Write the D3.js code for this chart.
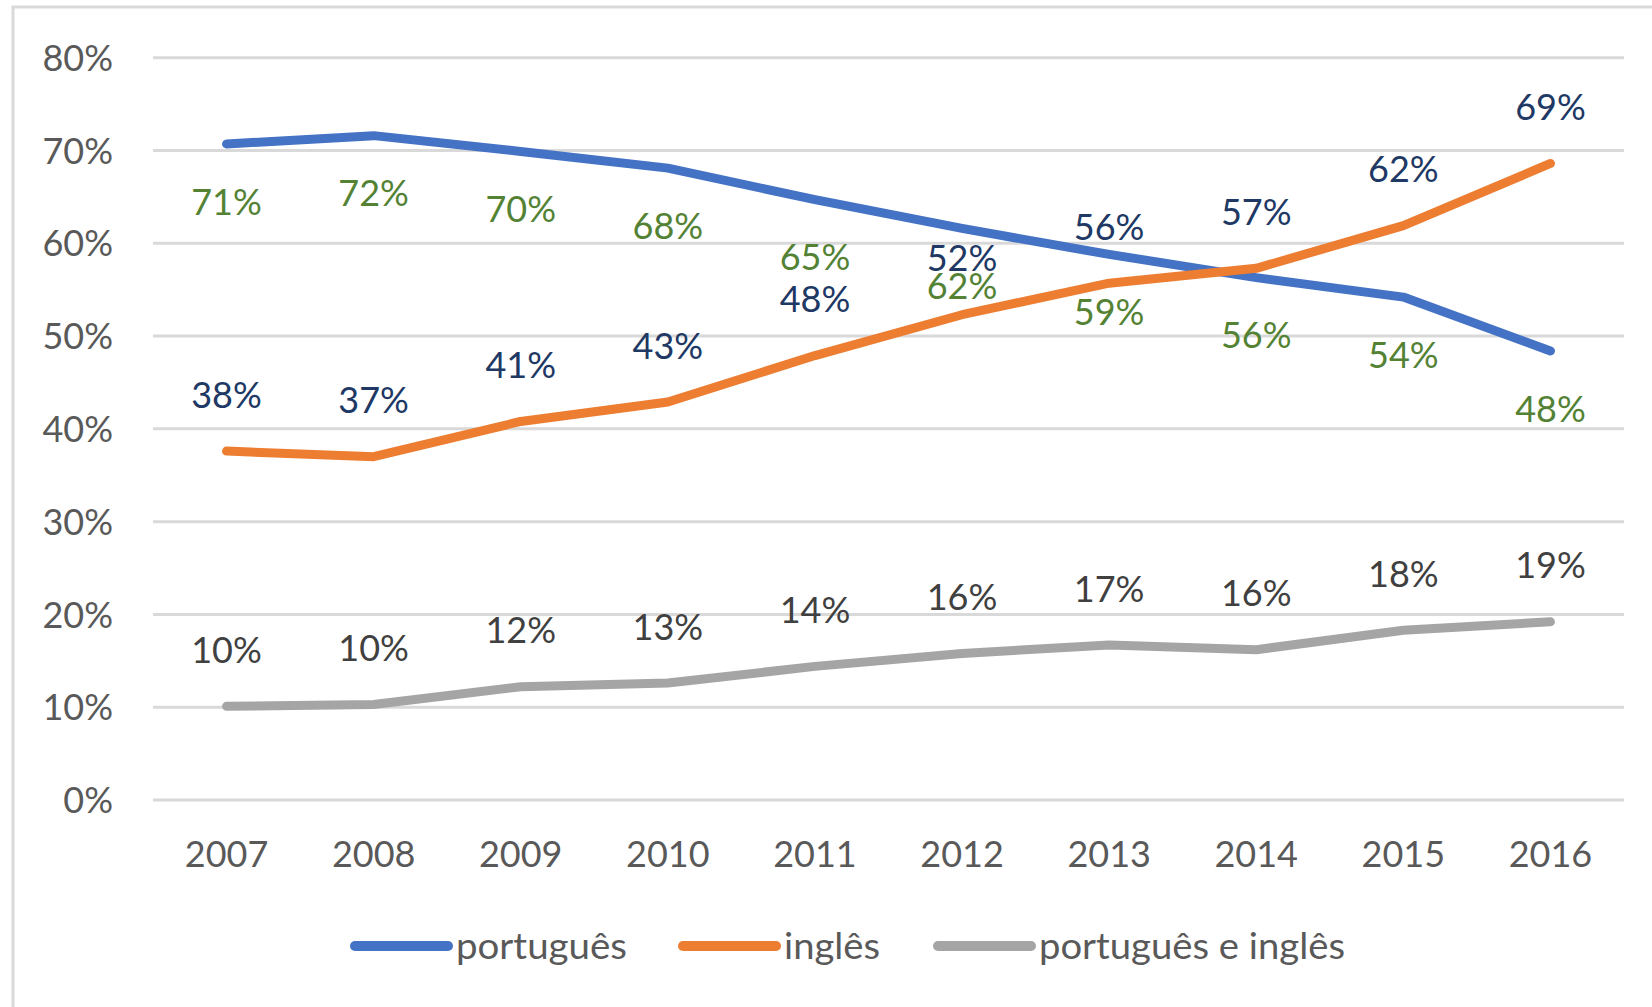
<!DOCTYPE html>
<html>
<head>
<meta charset="utf-8">
<script src="https://cdn.jsdelivr.net/npm/d3@7"></script>
<style>
  body { margin: 0; background: #fff; }
  text { font-family: Lato, "Open Sans", sans-serif; }
</style>
</head>
<body>
<svg id="chart"></svg>
<script>
// years on the x axis
const years = ["2007", "2008", "2009", "2010", "2011", "2012", "2013", "2014", "2015", "2016"];

// share of each language
const portugues = [0.707, 0.716, 0.699, 0.681, 0.647, 0.616, 0.588, 0.563, 0.542, 0.484];
const ingles = [0.376, 0.370, 0.408, 0.429, 0.479, 0.523, 0.557, 0.573, 0.619, 0.686];
const ambos = [0.101, 0.103, 0.122, 0.126, 0.144, 0.158, 0.167, 0.162, 0.183, 0.192];

const yTicks = [0, 0.1, 0.2, 0.3, 0.4, 0.5, 0.6, 0.7, 0.8];

const series = [
  { name: "português", values: portugues, color: "#4472C4", labelColor: "#548235", labelPos: "below" },
  { name: "inglês", values: ingles, color: "#ED7D31", labelColor: "#203864", labelPos: "above" },
  { name: "português e inglês", values: ambos, color: "#A5A5A5", labelColor: "#404040", labelPos: "above" }
];

const width = 1652;
const height = 1007;

const svg = d3.select("#chart")
  .attr("width", width)
  .attr("height", height);

// chart border
svg.append("rect")
  .attr("x", 13)
  .attr("y", 7)
  .attr("width", width)
  .attr("height", height)
  .attr("fill", "none")
  .attr("stroke", "#D9D9D9")
  .attr("stroke-width", 3);

const x = d3.scaleBand()
  .domain(years)
  .range([153, 1624]);

const y = d3.scaleLinear()
  .domain([0, 0.8])
  .range([800, 57.7]);

const pct = d3.format(".0%");

// gridlines
svg.append("g")
  .selectAll("line")
  .data(yTicks)
  .enter()
  .append("line")
  .attr("x1", 153)
  .attr("x2", 1624)
  .attr("y1", d => y(d))
  .attr("y2", d => y(d))
  .attr("stroke", "#D9D9D9")
  .attr("stroke-width", 3);

// y axis labels
const yAxis = svg.append("g")
  .attr("transform", "translate(113,0)")
  .call(d3.axisLeft(y).tickValues(yTicks).tickFormat(pct).tickSize(0).tickPadding(0));
yAxis.select(".domain").remove();
yAxis.selectAll("text")
  .attr("dy", "0.35em")
  .style("font-family", "Lato, sans-serif")
  .style("font-size", "36px")
  .attr("fill", "#595959");

// x axis labels
const xAxis = svg.append("g")
  .attr("transform", "translate(0,854)")
  .call(d3.axisBottom(x).tickSize(0).tickPadding(0));
xAxis.select(".domain").remove();
xAxis.selectAll("text")
  .attr("dy", "0.35em")
  .style("font-family", "Lato, sans-serif")
  .style("font-size", "36px")
  .attr("fill", "#595959");

const line = d3.line()
  .x((d, i) => x(years[i]) + x.bandwidth() / 2)
  .y(d => y(d));

// lines
svg.append("g")
  .selectAll("path")
  .data(series)
  .enter()
  .append("path")
  .attr("d", d => line(d.values))
  .attr("fill", "none")
  .attr("stroke", d => d.color)
  .attr("stroke-width", 9)
  .attr("stroke-linecap", "round")
  .attr("stroke-linejoin", "round");

// data labels
series.forEach(s => {
  svg.append("g")
    .selectAll("text")
    .data(s.values)
    .enter()
    .append("text")
    .attr("x", (d, i) => x(years[i]) + x.bandwidth() / 2)
    .attr("y", d => y(d) + (s.labelPos === "below" ? 58 : -56))
    .attr("dy", "0.35em")
    .attr("text-anchor", "middle")
    .style("font-size", "36px")
    .attr("fill", s.labelColor)
    .text(d => pct(d));
});

// legend
const legendWidths = [171, 96, 306];
const legendStarts = [355, 683, 938];
const legend = svg.append("g")
  .selectAll("g")
  .data(series)
  .enter()
  .append("g")
  .attr("transform", (d, i) => `translate(${legendStarts[i]},946)`);

legend.append("line")
  .attr("x1", 0)
  .attr("x2", 93)
  .attr("stroke", d => d.color)
  .attr("stroke-width", 10)
  .attr("stroke-linecap", "round");

legend.append("text")
  .attr("x", 101)
  .attr("dy", "0.35em")
  .style("font-size", "36px")
  .attr("fill", "#595959")
  .attr("textLength", (d, i) => legendWidths[i])
  .attr("lengthAdjust", "spacingAndGlyphs")
  .text(d => d.name);
</script>
</body>
</html>
